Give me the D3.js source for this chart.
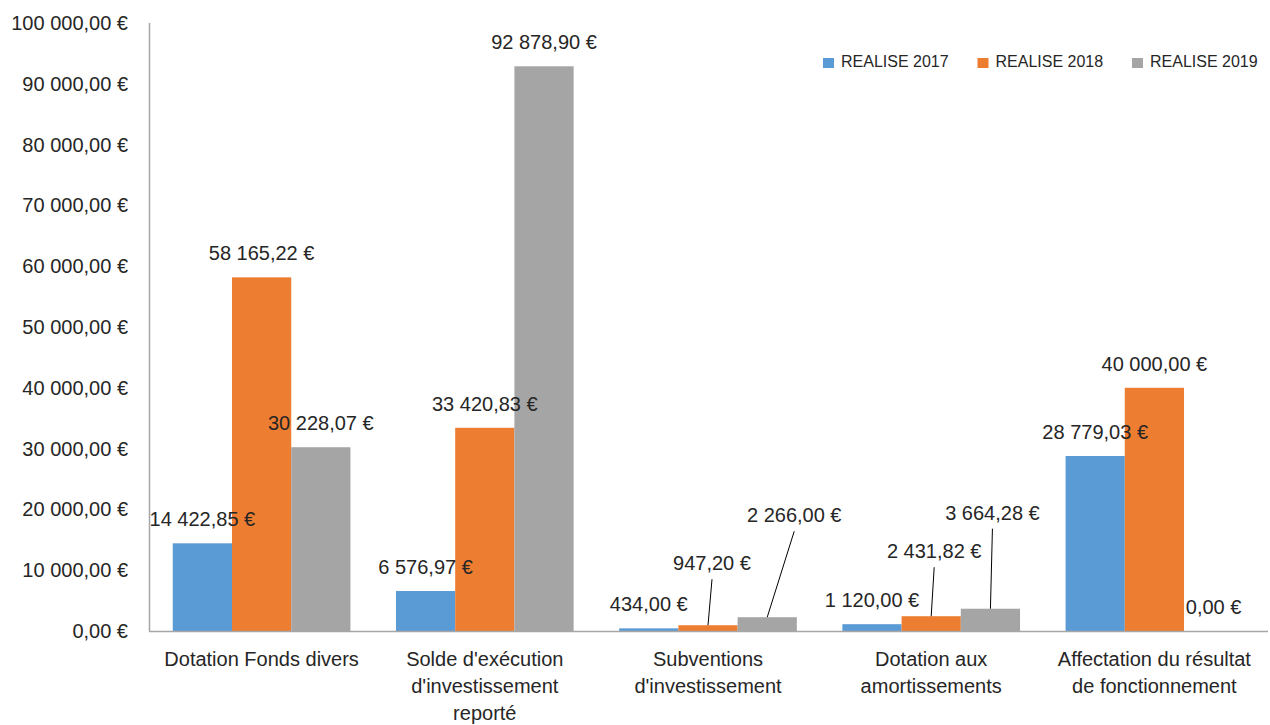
<!DOCTYPE html>
<html>
<head>
<meta charset="utf-8">
<script src="https://cdn.jsdelivr.net/npm/d3@7"></script>
<style>
  html, body { margin: 0; padding: 0; background: #fff; }
  svg text { font-family: "Liberation Sans", Arial, sans-serif; fill: #262626; }
</style>
</head>
<body>
<div id="chart"></div>
<script>
// data
const categories = [
  "Dotation Fonds divers",
  "Solde d'exécution d'investissement reporté",
  "Subventions d'investissement",
  "Dotation aux amortissements",
  "Affectation du résultat de fonctionnement"
];
const categoryLines = [
  ["Dotation Fonds divers"],
  ["Solde d'exécution", "d'investissement", "reporté"],
  ["Subventions", "d'investissement"],
  ["Dotation aux", "amortissements"],
  ["Affectation du résultat", "de fonctionnement"]
];
const seriesNames = ["REALISE 2017", "REALISE 2018", "REALISE 2019"];
const realise2017 = [14422.85, 6576.97, 434.00, 1120.00, 28779.03];
const realise2018 = [58165.22, 33420.83, 947.20, 2431.82, 40000.00];
const realise2019 = [30228.07, 92878.90, 2266.00, 3664.28, 0.00];
const yTicks = [0, 10000, 20000, 30000, 40000, 50000, 60000, 70000, 80000, 90000, 100000];

const colors = ["#5B9BD5", "#ED7D31", "#A5A5A5"];

// labels that were moved away from their bar (with leader line)
const labelNudges = {
  "1-2": { dx: 4, dy: -38 },
  "2-2": { dx: 27, dy: -78 },
  "1-3": { dx: 3, dy: -41 },
  "2-3": { dx: 2, dy: -72 }
};

const W = 1270, H = 725;
const allSeries = [realise2017, realise2018, realise2019];

const fr = d3.formatLocale({ decimal: ",", thousands: " ", grouping: [3], currency: ["", " €"] });
const fmt = v => fr.format(",.2f")(v) + " €";

const svg = d3.select('#chart').append('svg')
  .attr('width', W).attr('height', H);

svg.append('rect').attr('width', W).attr('height', H).attr('fill', '#fff');

const x0 = d3.scaleBand()
  .domain(d3.range(categories.length))
  .range([150, 1266])
  .paddingInner(0.204)
  .paddingOuter(0.102);

const x1 = d3.scaleBand()
  .domain(d3.range(seriesNames.length))
  .range([0, x0.bandwidth()]);

const y = d3.scaleLinear().domain([0, 100000]).range([631, 23]);

// y axis labels
svg.append('g').selectAll('text')
  .data(yTicks)
  .enter().append('text')
  .attr('x', 128)
  .attr('y', d => y(d))
  .attr('dy', '0.35em')
  .attr('text-anchor', 'end')
  .style('font-size', '20px')
  .text(d => fmt(d));

// bars
const groups = svg.append('g').selectAll('g')
  .data(categories)
  .enter().append('g')
  .attr('transform', (d, i) => `translate(${x0(i)},0)`);

groups.selectAll('rect')
  .data((d, ci) => allSeries.map((s, si) => ({ ci, si, v: s[ci] })))
  .enter().append('rect')
  .attr('x', d => x1(d.si))
  .attr('y', d => y(d.v))
  .attr('width', x1.bandwidth())
  .attr('height', d => y(0) - y(d.v))
  .attr('fill', d => colors[d.si]);

// axes lines
svg.append('line')
  .attr('x1', 149.5).attr('x2', 149.5)
  .attr('y1', y(100000)).attr('y2', y(0))
  .attr('stroke', '#A6A6A6').attr('stroke-width', 1.5);
svg.append('line')
  .attr('x1', 149).attr('x2', 1268)
  .attr('y1', y(0) + 0.5).attr('y2', y(0) + 0.5)
  .attr('stroke', '#A6A6A6').attr('stroke-width', 1.5);

// data labels
const labelData = [];
categories.forEach((c, ci) => {
  allSeries.forEach((s, si) => {
    const cx = x0(ci) + x1(si) + x1.bandwidth() / 2;
    const top = y(s[ci]);
    const n = labelNudges[si + "-" + ci];
    labelData.push({
      v: s[ci], cx, top,
      lx: cx + (n ? n.dx : 0),
      ly: top - 17 + (n ? n.dy : 0),
      leader: !!n
    });
  });
});

svg.append('g').selectAll('line')
  .data(labelData.filter(d => d.leader))
  .enter().append('line')
  .attr('x1', d => d.lx).attr('y1', d => d.ly + 9)
  .attr('x2', d => d.cx).attr('y2', d => d.top)
  .attr('stroke', '#000').attr('stroke-width', 1);

svg.append('g').selectAll('text')
  .data(labelData)
  .enter().append('text')
  .attr('x', d => d.lx)
  .attr('y', d => d.ly)
  .attr('text-anchor', 'middle')
  .style('font-size', '20px')
  .text(d => fmt(d.v));

// category labels
const catG = svg.append('g').selectAll('text')
  .data(categoryLines)
  .enter().append('text')
  .attr('x', (d, i) => x0(i) + x0.bandwidth() / 2)
  .attr('y', 666)
  .attr('text-anchor', 'middle')
  .style('font-size', '20px');
catG.selectAll('tspan')
  .data(d => d)
  .enter().append('tspan')
  .attr('x', function () { return d3.select(this.parentNode).attr('x'); })
  .attr('dy', (d, i) => i === 0 ? 0 : 27)
  .text(d => d);

// legend
const legend = svg.append('g').selectAll('g')
  .data(seriesNames)
  .enter().append('g')
  .attr('transform', (d, i) => `translate(${823 + i * 154.5},58)`);
legend.append('rect')
  .attr('width', 11).attr('height', 10)
  .attr('fill', (d, i) => colors[i]);
legend.append('text')
  .attr('x', 18).attr('y', 9)
  .style('font-size', '16px')
  .text(d => d);
</script>
</body>
</html>
